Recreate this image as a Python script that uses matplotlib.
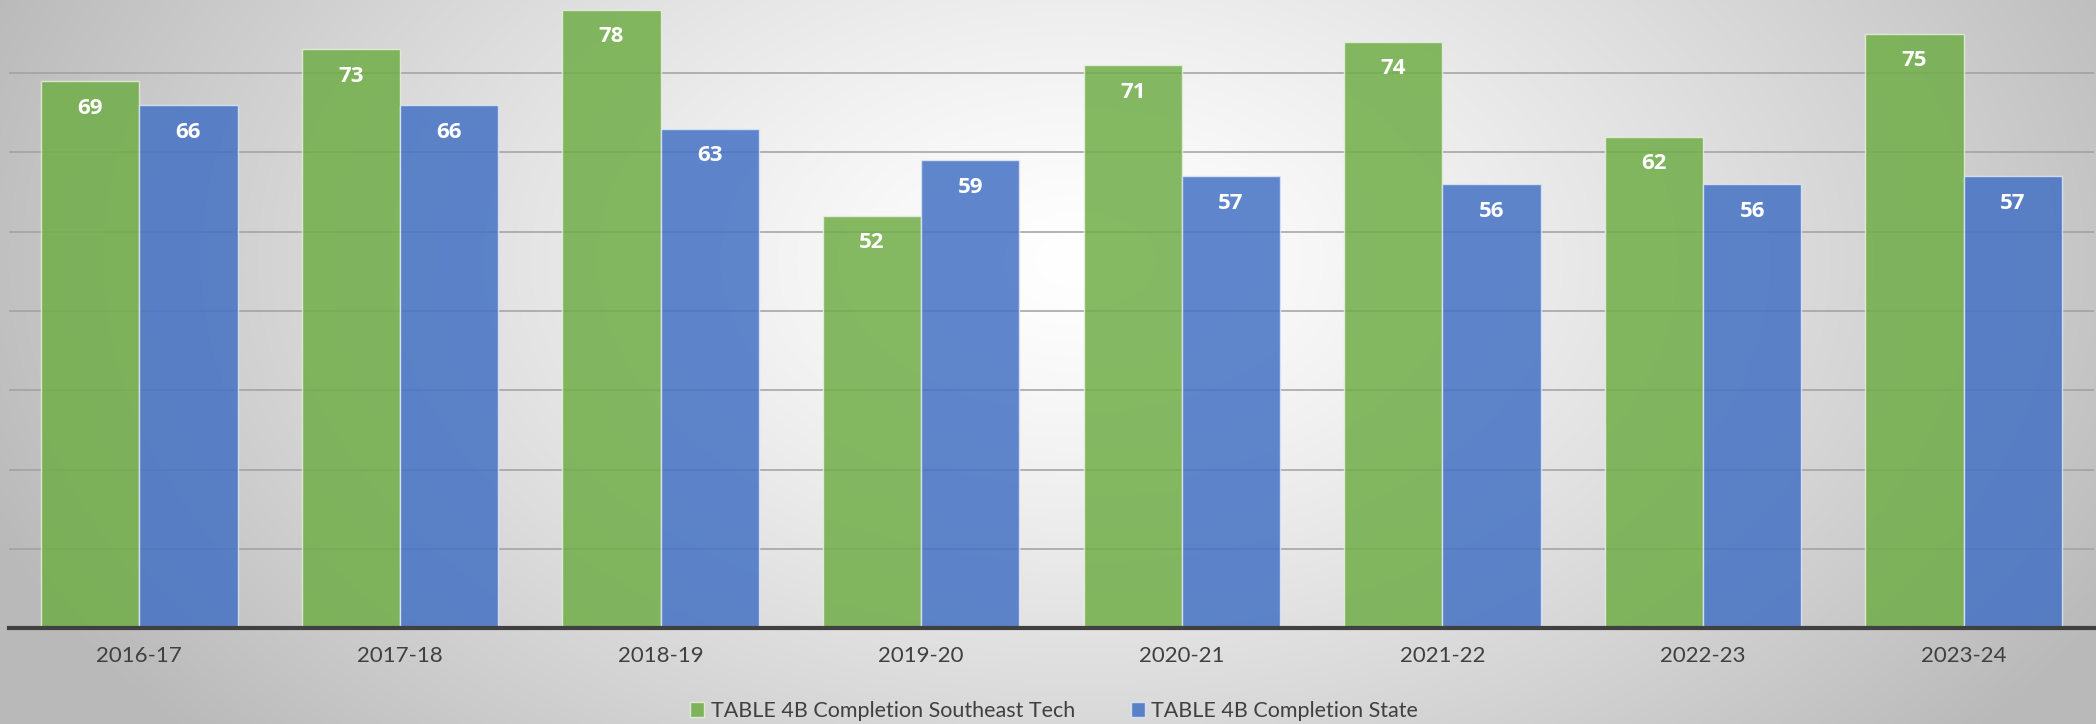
import numpy as np
import matplotlib
matplotlib.use("Agg")
import matplotlib.pyplot as plt

# data
years = ["2016-17", "2017-18", "2018-19", "2019-20", "2020-21", "2021-22", "2022-23", "2023-24"]
southeast_tech = [69, 73, 78, 52, 71, 74, 62, 75]
state = [66, 66, 63, 59, 57, 56, 56, 57]
series_names = ["TABLE 4B Completion Southeast Tech", "TABLE 4B Completion State"]

W, H = 2096, 724
fig = plt.figure(figsize=(W / 100, H / 100), dpi=100)

# radial grey-to-white background, like the slide it came from
bg = fig.add_axes([0, 0, 1, 1], zorder=-10)
yy, xx = np.mgrid[0:H, 0:W]
d = np.sqrt(((xx - 1080) / 1150.0) ** 2 + ((yy - 260) / 720.0) ** 2)
shade = np.clip(255 - 68 * d ** 1.3, 185, 255) / 255.0
bg.imshow(np.dstack([shade] * 3), aspect="auto", extent=[0, 1, 0, 1])
bg.axis("off")

ax = fig.add_axes([9 / W, 96 / H, 2085 / W, 634 / H])
ax.set_facecolor("none")

x = np.arange(len(years))
bw = 0.377
bars1 = ax.bar(x - bw / 2, southeast_tech, bw, color="#70AD47", alpha=0.85,
               edgecolor="#E8F0E0", linewidth=1.0, label=series_names[0], zorder=3)
bars2 = ax.bar(x + bw / 2, state, bw, color="#4472C4", alpha=0.85,
               edgecolor="#DDE6F5", linewidth=1.0, label=series_names[1], zorder=3)

for bars in (bars1, bars2):
    for b in bars:
        ax.annotate(f"{b.get_height():.0f}", (b.get_x() + b.get_width() / 2, b.get_height()),
                    xytext=(0, -19.5), textcoords="offset points", ha="center", va="center",
                    color="white", fontsize=16, fontweight="bold", family="Open Sans", zorder=5)

ax.set_xlim(-0.5, len(years) - 0.5)
ax.set_ylim(0, 80)
ax.set_yticks(np.arange(10, 80, 10))
ax.yaxis.grid(True, color="#A0A0A0", linewidth=1.1, zorder=0)
ax.set_axisbelow(True)
ax.tick_params(axis="y", left=False, labelleft=False)
ax.set_xticks(x)
ax.set_xticklabels(years, family="Lato", fontsize=16, color="#404040")
ax.tick_params(axis="x", length=0, pad=13)
for s in ("top", "left", "right"):
    ax.spines[s].set_visible(False)
ax.spines["bottom"].set_color("#404040")
ax.spines["bottom"].set_linewidth(3)
ax.spines["bottom"].set_zorder(6)

fig.legend(handles=[bars1, bars2], labels=series_names, loc="center",
           bbox_to_anchor=(0.503, 1 - 711 / H), ncol=2, frameon=False,
           prop={"family": "Lato", "size": 15.5}, labelcolor="#404040",
           handlelength=0.65, handleheight=0.65, handletextpad=0.3, columnspacing=2.6)

fig.savefig("out.png", dpi=100)
